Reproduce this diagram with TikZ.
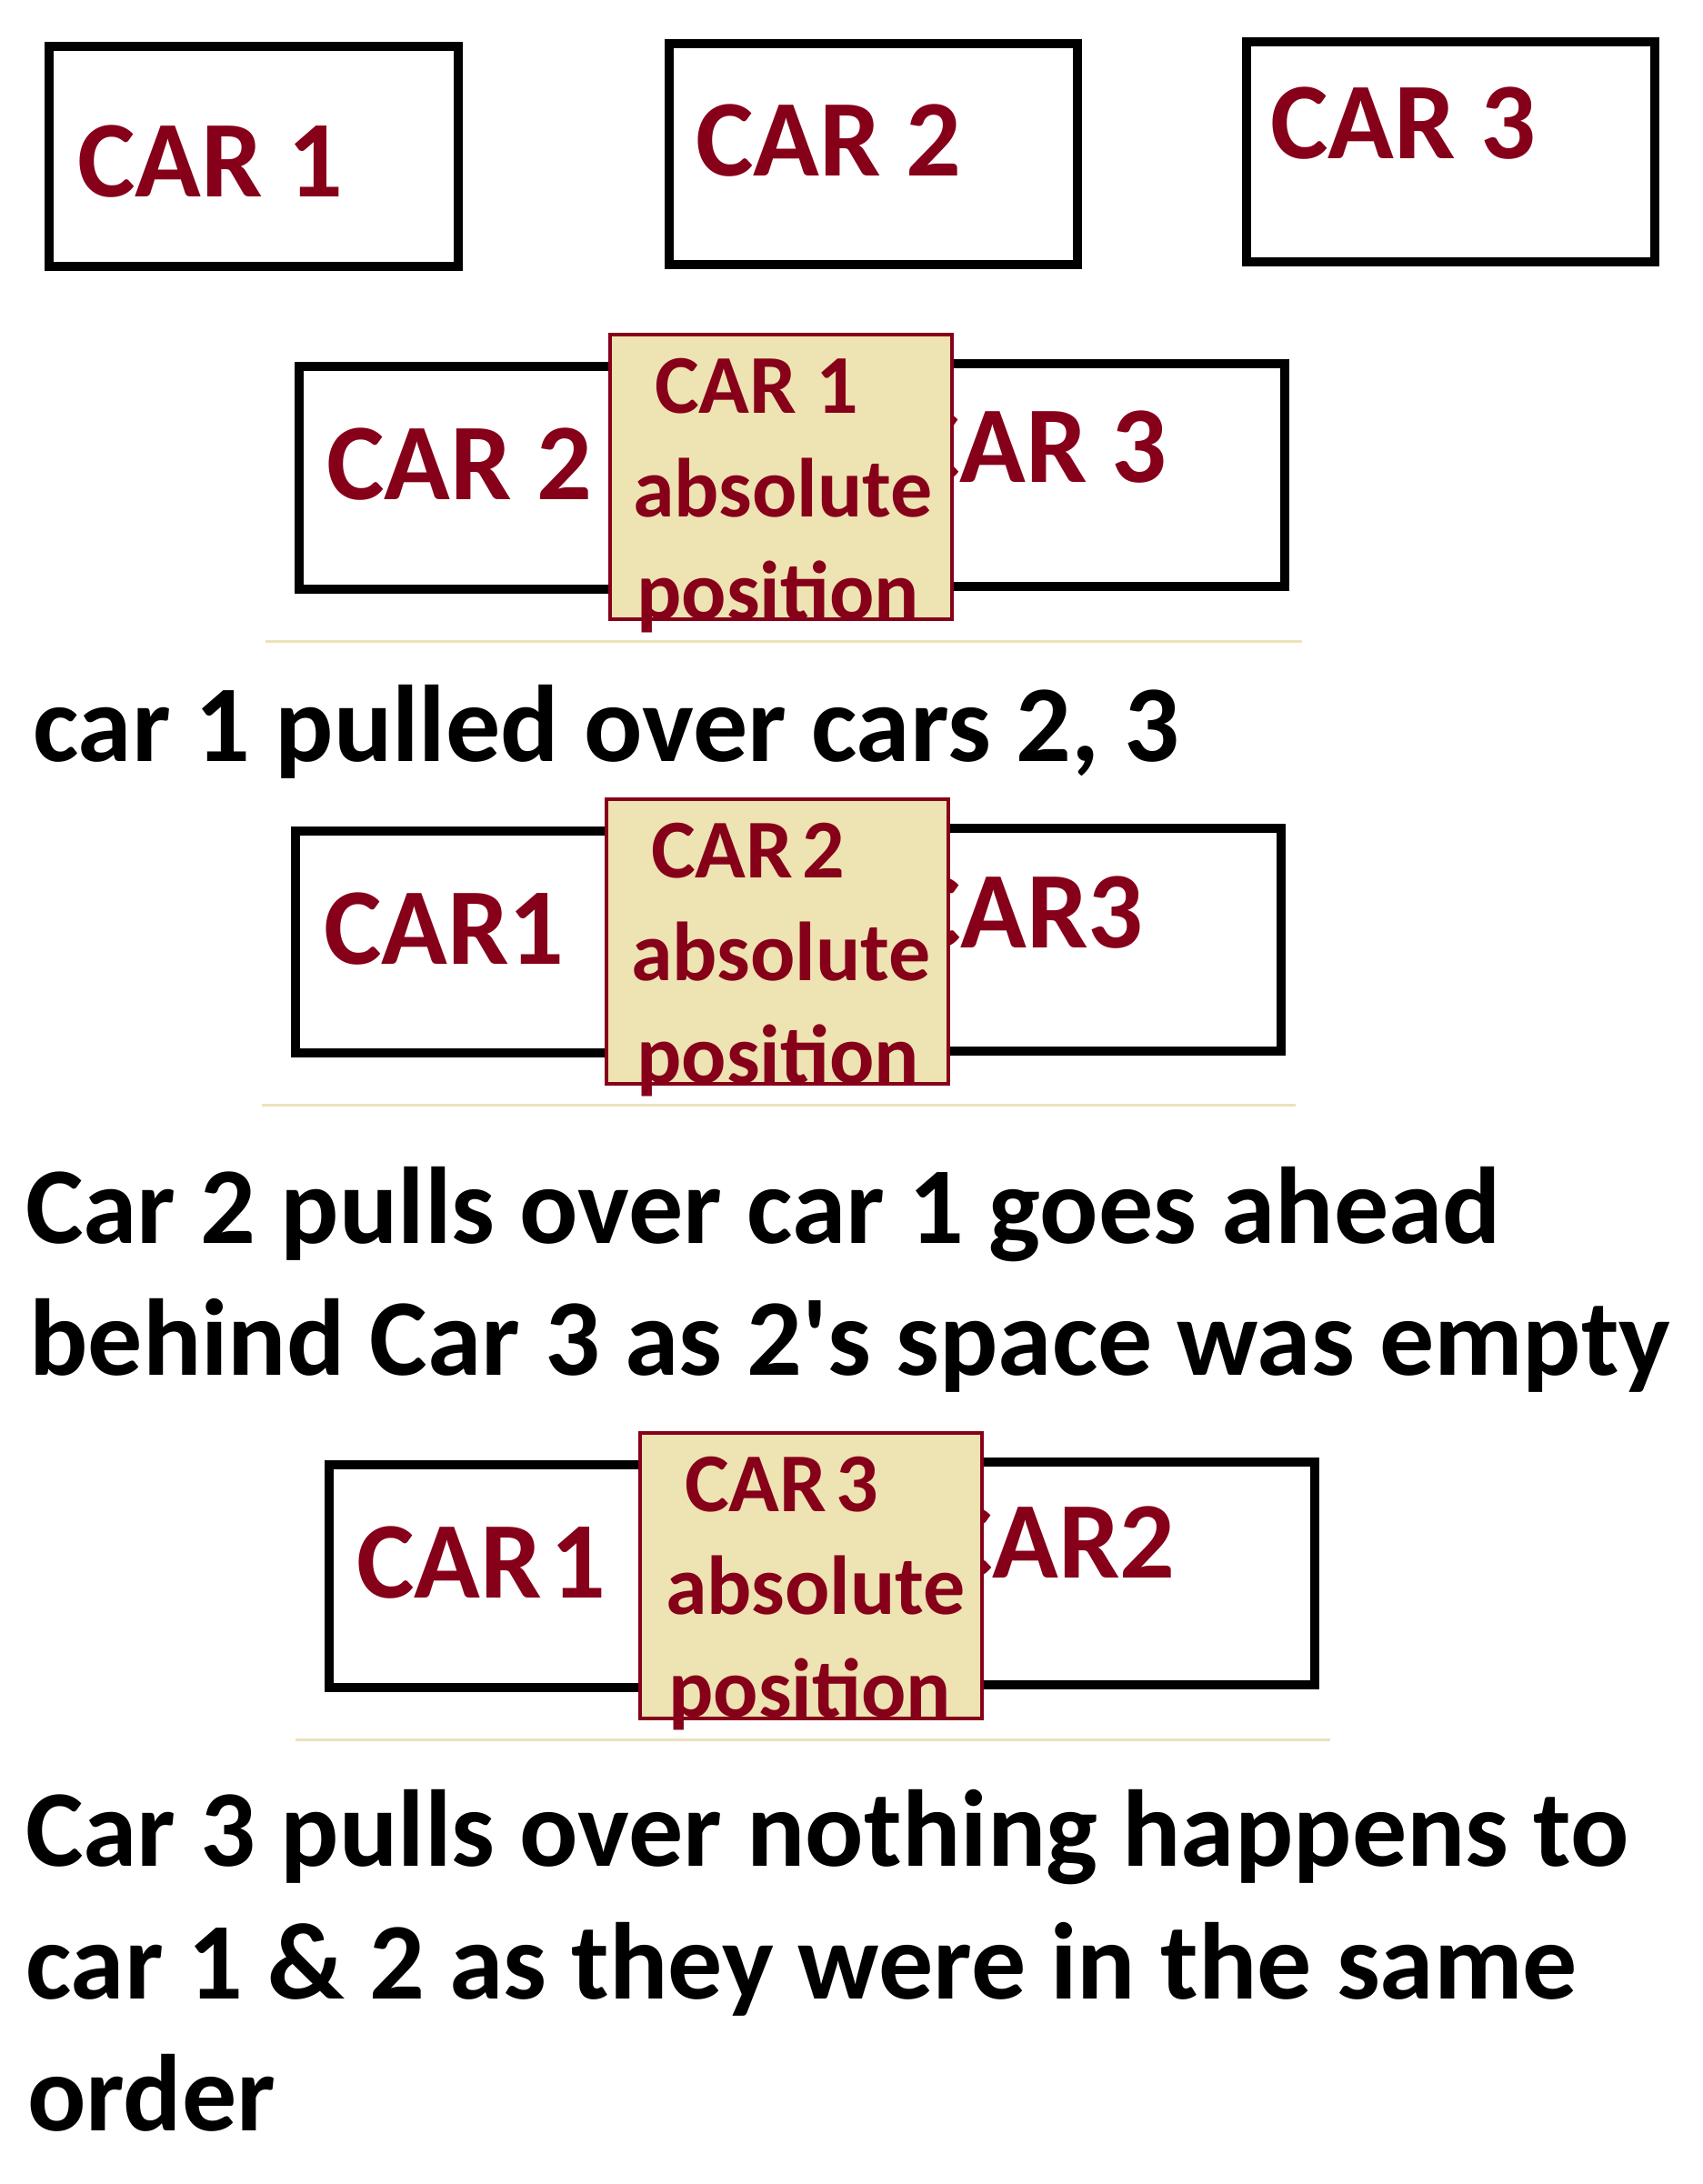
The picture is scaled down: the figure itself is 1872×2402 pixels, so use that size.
\documentclass[tikz,border=0pt]{standalone}
\usepackage{fontspec}
\setmainfont{Carlito}[Ligatures=TeXOff]
\definecolor{carred}{RGB}{134,0,26}
\definecolor{boxfill}{RGB}{238,227,178}
\definecolor{tanline}{RGB}{236,226,186}
\begin{document}
\begin{tikzpicture}[x=1pt,y=-1pt,
  carbox/.style={draw=black,line width=10pt,fill=white},
  absbox/.style={draw=carred,line width=4pt,fill=boxfill},
  bigred/.style={text=carred,font=\fontsize{120}{145}\selectfont\bfseries,inner sep=0pt,anchor=base west},
  smallred/.style={text=carred,font=\fontsize{92}{114}\selectfont\bfseries,inner sep=0pt,anchor=base west},
  caption/.style={text=black,font=\fontsize{120}{145}\selectfont\bfseries,inner sep=0pt,anchor=base west},
  sepline/.style={draw=tanline,line width=3pt}]
\useasboundingbox[fill=white] (0,0) rectangle (1872,2402);

% ---- row 1
\draw[carbox] (54,50.5) rectangle (504,293);
\draw[carbox] (736,48) rectangle (1185,291);
\draw[carbox] (1371,45.6) rectangle (1820,287.7);
\node[bigred] (a1) at (85,216) {CAR 1};
\node[bigred] (a2) at (765,193) {CAR 2};
\node[bigred] (a3) at (1397,174) {CAR 3};

% ---- row 2
\draw[carbox] (329,403) rectangle (778,648);
\draw[carbox] (964,400) rectangle (1413,645);
\node[bigred] (b2) at (359,549) {CAR 2};
\node[bigred,anchor=base east] (b3) at (1284,530) {CAR 3};
\draw[absbox] (671,368) rectangle (1047,681);
\node[smallred] (b1a) at (720,454) {CAR 1};
\node[smallred] (b1b) at (696,568) {absolute};
\node[smallred] (b1c) at (700,681) {position};
\draw[sepline] (292,705) -- (1432,705);
\node[caption] (t1) at (36,837) {car 1 pulled over cars 2, 3};

% ---- row 3
\draw[carbox] (325,914) rectangle (774,1158);
\draw[carbox] (960,911) rectangle (1409,1156);
\node[bigred] (c1) at (356,1060) {CAR1};
\node[bigred,anchor=base east] (c3) at (1258,1042) {CAR3};
\draw[absbox] (667,879) rectangle (1043,1192);
\node[smallred] (c2a) at (716,965) {\spaceskip=0.11em\relax CAR 2};
\node[smallred] (c2b) at (694,1078) {absolute};
\node[smallred] (c2c) at (700,1191) {position};
\draw[sepline] (288,1215) -- (1425,1215);
\node[caption] (t2a) at (28,1367) {Car 2 pulls over car 1 goes ahead};
\node[caption] (t2b) at (32,1512) {behind Car 3 as 2's space was empty};

% ---- row 4
\draw[carbox] (362,1611) rectangle (811,1856);
\draw[carbox] (997,1608) rectangle (1446,1853);
\node[bigred] (d1) at (392,1757) {\spaceskip=0.08em\relax CAR 1};
\node[bigred,anchor=base east] (d2) at (1293,1735) {CAR2};
\draw[absbox] (704,1576) rectangle (1080,1890);
\node[smallred] (d3a) at (753,1662) {\spaceskip=0.11em\relax CAR 3};
\node[smallred] (d3b) at (732,1775) {absolute};
\node[smallred] (d3c) at (735,1888) {position};
\draw[sepline] (325,1913) -- (1463,1913);
\node[caption] (t3a) at (28,2052) {Car 3 pulls over nothing happens to};
\node[caption] (t3b) at (28,2198) {car 1 \& 2 as they were in the same};
\node[caption] (t3c) at (30,2343) {order};
\end{tikzpicture}
\end{document}
